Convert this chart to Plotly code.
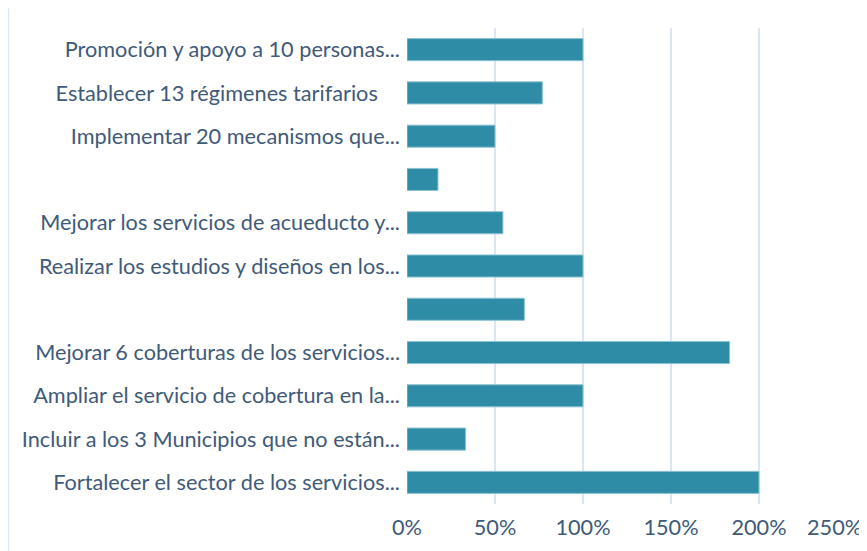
import plotly.graph_objects as go

labels = [
    "Promoción y apoyo a 10 personas...",
    "Establecer 13 régimenes tarifarios\u00a0\u00a0\u00a0\u00a0",
    "Implementar 20 mecanismos que...",
    "",
    "Mejorar los servicios de acueducto y...",
    "Realizar los estudios y diseños en los...",
    "",
    "Mejorar 6 coberturas de los servicios...",
    "Ampliar el servicio de cobertura en la...",
    "Incluir a los 3 Municipios que no están...",
    "Fortalecer el sector de los servicios...",
]
values = [1.00, 0.769, 0.50, 0.176, 0.545, 1.00, 0.667, 1.833, 1.00, 0.333, 2.00]
x_ticks = [0, 0.5, 1.0, 1.5, 2.0, 2.5]
x_tick_labels = ["0%", "50%", "100%", "150%", "200%", "250%"]

positions = list(range(len(labels)))

text_color = "#405a7a"
grid_color = "#dbe5f4"
fsize = 21.7

fig = go.Figure(
    go.Bar(
        x=values,
        y=positions,
        orientation="h",
        marker=dict(color="#2f8ca6", line=dict(color="#8cc2d2", width=1)),
        width=0.51,
    )
)

fig.update_layout(
    width=859,
    height=543,
    autosize=False,
    margin=dict(l=399, r=20, t=20, b=47, autoexpand=False),
    paper_bgcolor="white",
    plot_bgcolor="white",
    showlegend=False,
    font=dict(family="Lato", size=fsize, color=text_color),
)
fig.update_yaxes(
    tickmode="array",
    tickvals=positions,
    ticktext=labels,
    range=[len(labels) - 0.5, -0.5],
    showgrid=False,
    zeroline=False,
    showline=False,
    ticks="",
    automargin=False,
    ticklabelstandoff=6,
    tickfont=dict(family="Lato", size=fsize, color=text_color),
)
# last tick label is drawn as an annotation nudged left so it stays inside the page
fig.update_xaxes(
    range=[0, 2.5],
    tickmode="array",
    tickvals=x_ticks,
    ticktext=x_tick_labels[:-1] + [""],
    showgrid=True,
    gridcolor=grid_color,
    gridwidth=1.5,
    zeroline=False,
    showline=False,
    ticks="",
    automargin=False,
    ticklabelstandoff=8,
    tickfont=dict(family="Lato", size=fsize, color=text_color),
)
fig.add_annotation(
    x=x_ticks[-1], xref="x", y=0, yref="paper",
    text=x_tick_labels[-1], showarrow=False,
    xanchor="center", yanchor="top", xshift=-13, yshift=-8,
    font=dict(family="Lato", size=fsize, color=text_color),
)
# chart frame on the left
fig.add_shape(type="line", xref="paper", yref="paper", x0=-0.906, x1=-0.906, y0=1.041, y1=-0.1,
              line=dict(color=grid_color, width=1.5))

fig.write_html("out.html")
